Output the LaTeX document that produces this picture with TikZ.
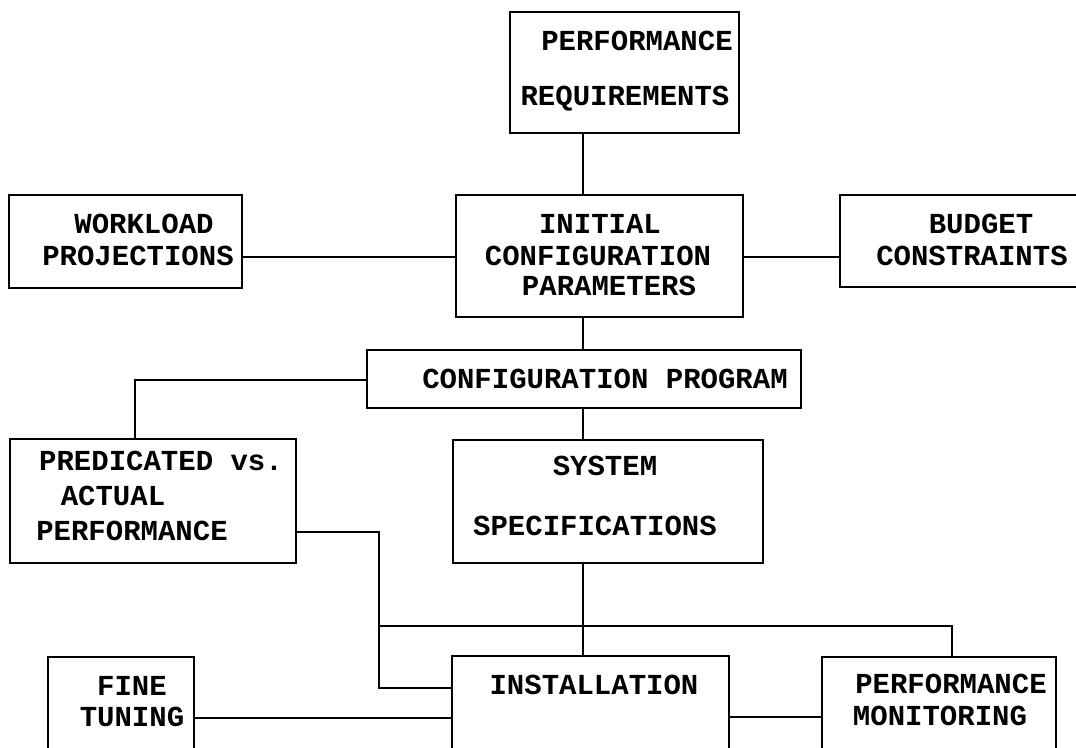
\documentclass[tikz,border=0pt]{standalone}
\usepackage{fontspec}
\setmonofont{Liberation Mono}
\begin{document}
\begin{tikzpicture}[x=1pt,y=-1pt,
  box/.style={draw=black,line width=2pt,inner sep=0pt,outer sep=0pt},
  txt/.style={font=\fontsize{29}{29}\selectfont\ttfamily\bfseries,inner sep=0pt,anchor=base},
  wire/.style={draw=black,line width=2pt}]
\useasboundingbox (0,0) rectangle (1076,747);
\clip (0,0) rectangle (1076,747);
\fill[white] (0,0) rectangle (1076,747);
% boxes
\node[box,minimum width=229pt,minimum height=121pt] (pr) at (624.5,72.5) {};
\node[box,minimum width=233pt,minimum height=93pt] (wl) at (125.5,241.5) {};
\node[box,minimum width=287pt,minimum height=122pt] (ic) at (599.5,256) {};
\node[box,minimum width=260pt,minimum height=92pt] (bc) at (970,241) {};
\node[box,minimum width=434pt,minimum height=58pt] (cp) at (584,379) {};
\node[box,minimum width=286pt,minimum height=124pt] (pa) at (153,501) {};
\node[box,minimum width=310pt,minimum height=123pt] (ss) at (608,501.5) {};
\node[box,minimum width=277pt,minimum height=140pt] (in) at (590.5,726) {};
\node[box,minimum width=146pt,minimum height=140pt] (ft) at (121,727) {};
\node[box,minimum width=234pt,minimum height=140pt] (pm) at (939,727) {};
% texts
\node[txt] (pr1) at (637,50) {PERFORMANCE};
\node[txt] (pr2) at (625,105) {REQUIREMENTS};
\node[txt] (wl1) at (144,233) {WORKLOAD};
\node[txt] (wl2) at (138,265) {PROJECTIONS};
\node[txt] (ic1) at (600,233) {INITIAL};
\node[txt] (ic2) at (598,265) {CONFIGURATION};
\node[txt] (ic3) at (609,295) {PARAMETERS};
\node[txt] (bc1) at (981,233) {BUDGET};
\node[txt] (bc2) at (972,265) {CONSTRAINTS};
\node[txt] (cp1) at (605,388) {CONFIGURATION PROGRAM};
\node[txt] (pa1) at (161,470) {PREDICATED vs.};
\node[txt] (pa2) at (113,505) {ACTUAL};
\node[txt] (pa3) at (132,540) {PERFORMANCE};
\node[txt] (ss1) at (605,475) {SYSTEM};
\node[txt] (ss2) at (595,535) {SPECIFICATIONS};
\node[txt] (in1) at (594,694) {INSTALLATION};
\node[txt] (ft1) at (132,695) {FINE};
\node[txt] (ft2) at (132,726) {TUNING};
\node[txt] (pm1) at (951,693) {PERFORMANCE};
\node[txt] (pm2) at (940,725) {MONITORING};
% helper coordinates
\coordinate (spine) at (583,0);
\coordinate (leftdrop) at (135,0);
\coordinate (busL) at (379,626);
\coordinate (busR) at (952,626);
\coordinate (paR) at (379,532);
\coordinate (inL) at (379,688);
% connectors
\draw[wire] (pr.south -| spine) -- (ic.north -| spine);
\draw[wire] (wl.east |- 0,257) -- (ic.west |- 0,257);
\draw[wire] (ic.east |- 0,257) -- (bc.west |- 0,257);
\draw[wire] (ic.south -| spine) -- (cp.north -| spine);
\draw[wire] (cp.west |- 0,380) -| (pa.north -| leftdrop);
\draw[wire] (cp.south -| spine) -- (ss.north -| spine);
\draw[wire] (ss.south -| spine) -- (in.north -| spine);
\draw[wire] (busL) -- (busR) -- (pm.north -| busR);
\draw[wire] (pa.east |- paR) -- (paR) -- (inL) -- (in.west |- inL);
\draw[wire] (ft.east |- 0,718) -- (in.west |- 0,718);
\draw[wire] (in.east |- 0,717) -- (pm.west |- 0,717);
\end{tikzpicture}
\end{document}
